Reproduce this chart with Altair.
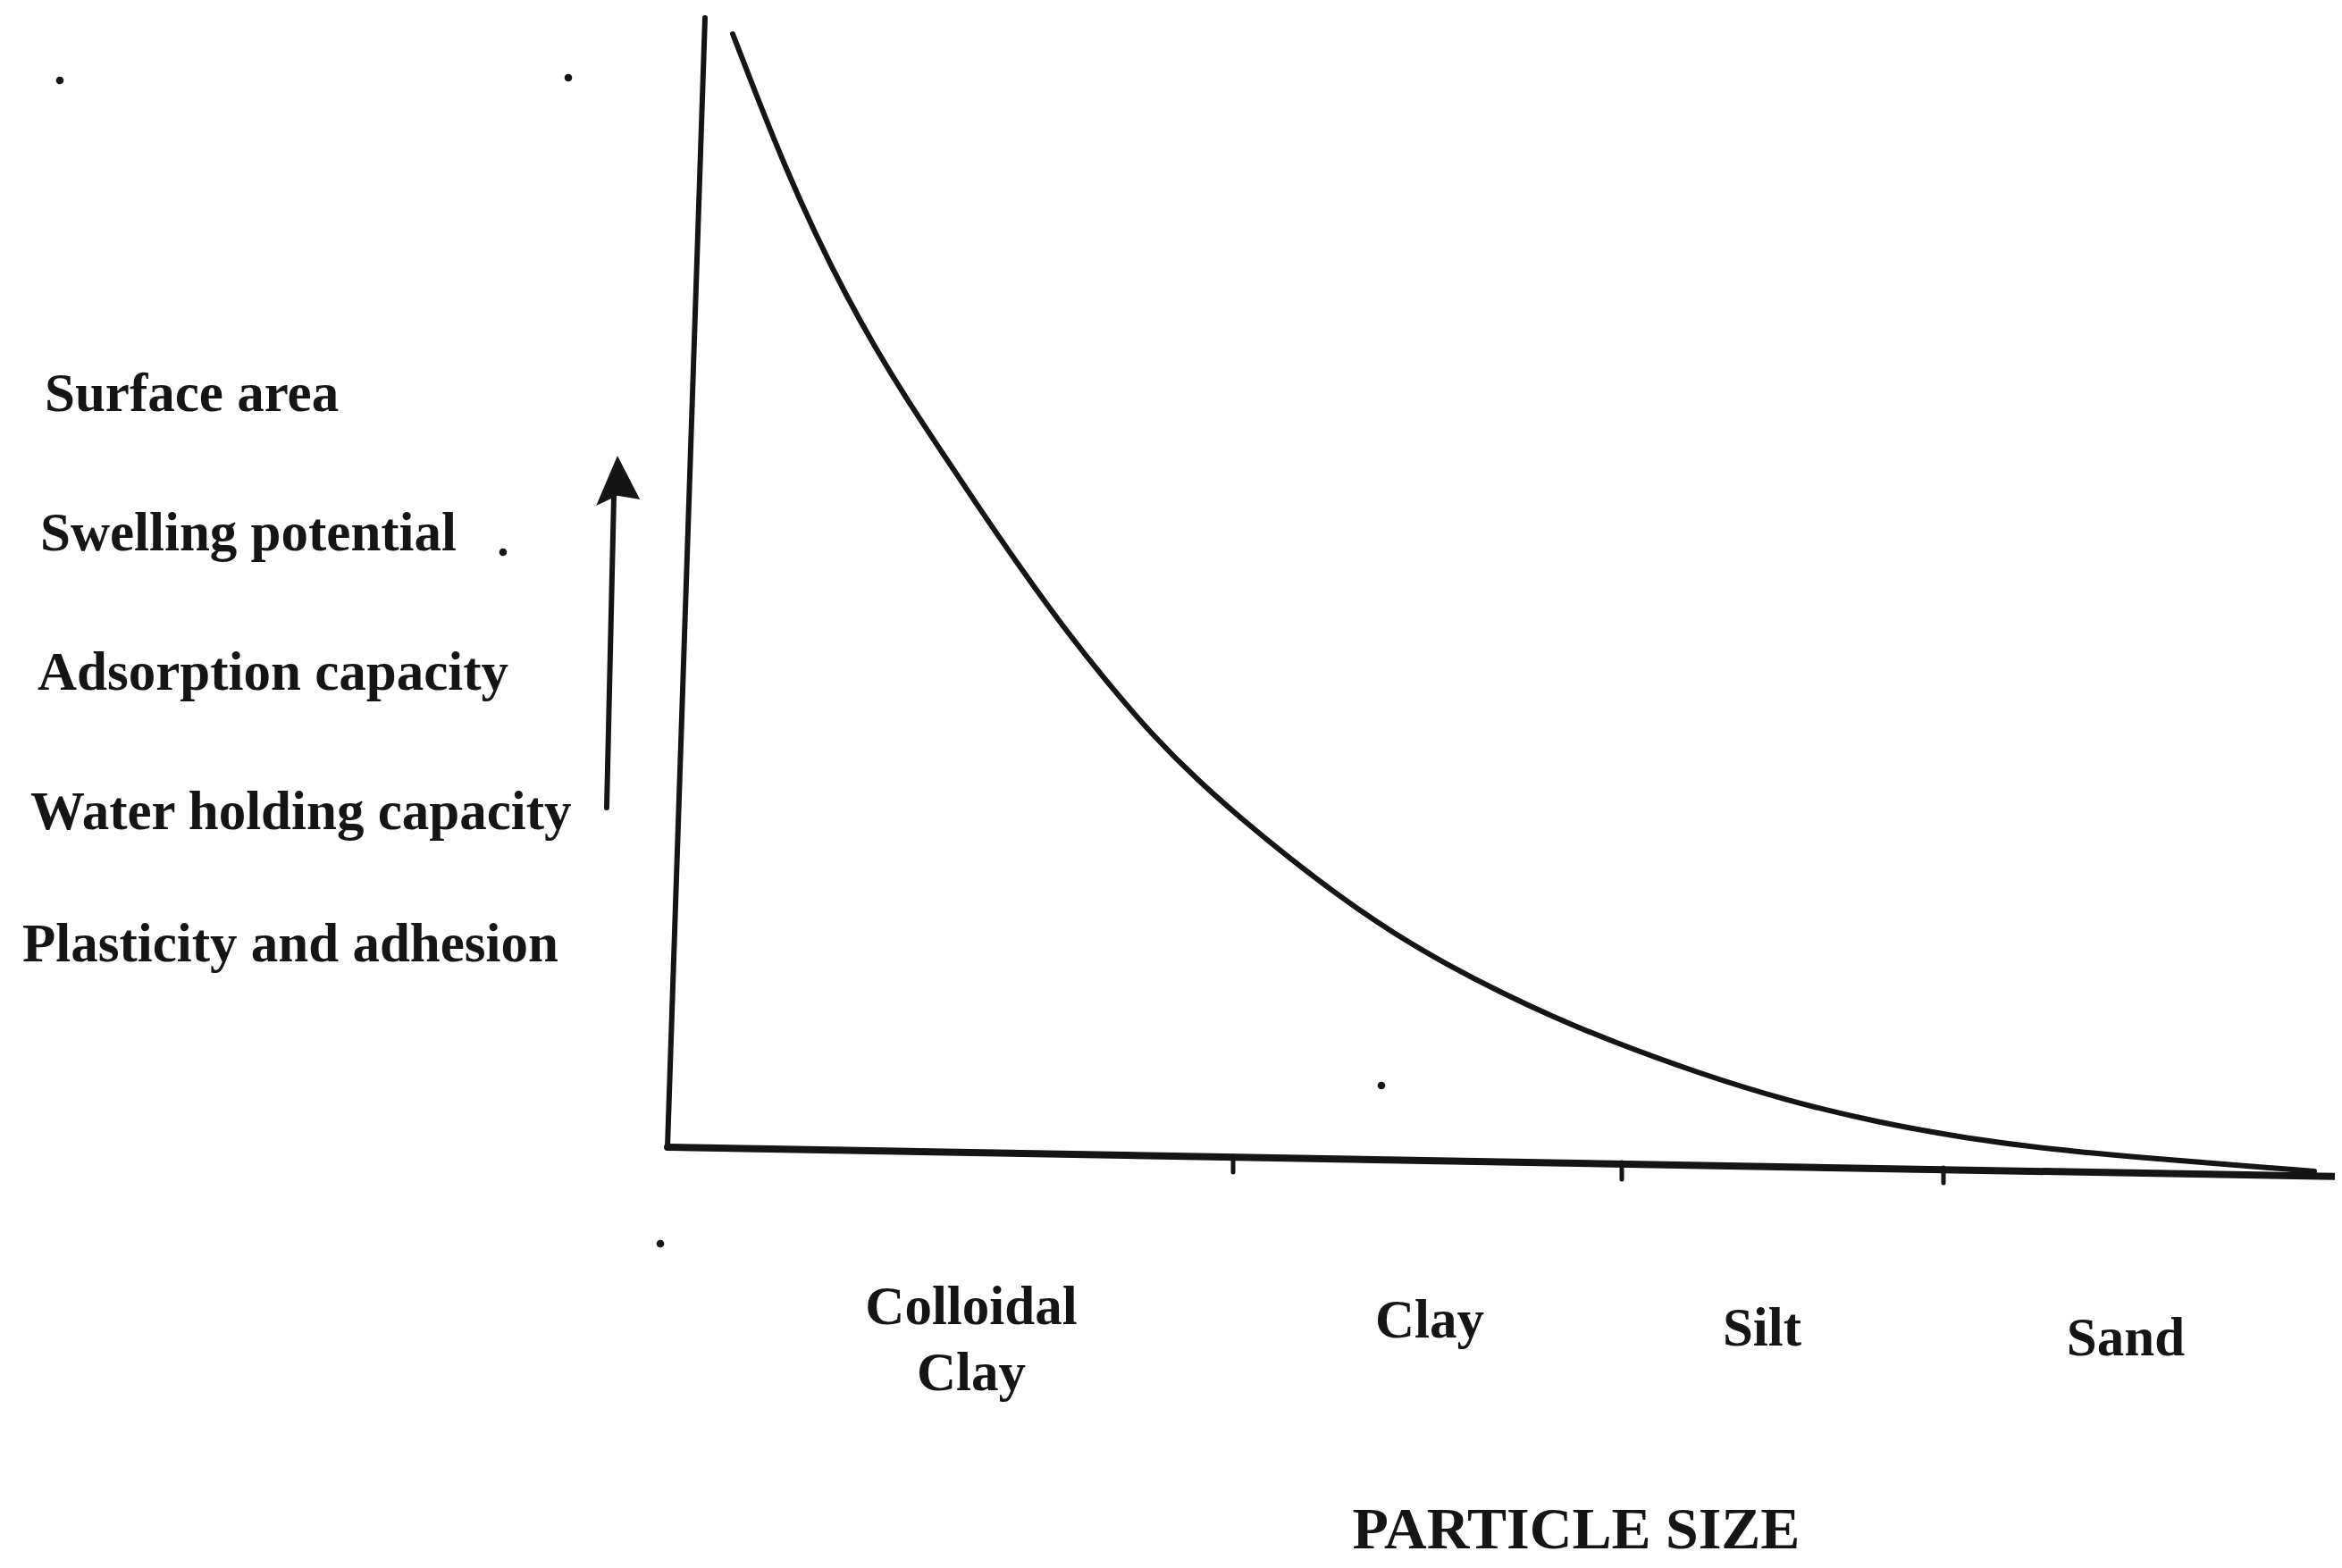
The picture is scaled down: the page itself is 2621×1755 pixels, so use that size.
import altair as alt
import pandas as pd

W, H = 2605, 1739

# curve (image pixel coordinates)
curve_x = [820, 847, 880, 913, 947, 980, 1013, 1050, 1090, 1140, 1190, 1240, 1290, 1340, 1390,
           1440, 1500, 1560, 1620, 1680, 1740, 1800, 1900, 2000, 2100, 2200, 2300, 2400, 2500, 2590]
curve_y = [38, 108, 190, 263, 331, 390, 444, 500, 560, 633, 702, 765, 823, 873, 917,
           958, 1004, 1045, 1080, 1111, 1139, 1164, 1201, 1232, 1256, 1274, 1287, 1296, 1304, 1311]

# axis lines, arrow shaft, ticks
seg_name = ["yaxis", "xaxis", "arrow", "tick1", "tick2", "tick3"]
seg_x = [747, 747, 679, 1380, 1815, 2175]
seg_y = [1284, 1284, 904, 1294, 1301, 1307]
seg_x2 = [789, 2621, 687, 1380, 1815, 2175]
seg_y2 = [20, 1317, 555, 1312, 1320, 1324]
seg_w = [6, 8, 6, 5, 5, 5]

# left labels
left_labels = ["Surface area", "Swelling potential", "Adsorption capacity",
               "Water holding capacity", "Plasticity and adhesion"]
left_x = [50, 45, 42, 34, 25]
left_y = [442, 598, 754, 910, 1058]

# category labels
cat_labels = ["Colloidal", "Clay", "Clay", "Silt", "Sand"]
cat_x = [1087, 1087, 1600, 1972, 2379]
cat_y = [1464, 1538, 1479, 1488, 1499]

title_text = ["PARTICLE SIZE"]
title_x = [1764]
title_y = [1713]

speck_x = [67, 636, 739, 1546, 563]
speck_y = [90, 87, 1392, 1215, 618]

xs = alt.Scale(domain=[8, 8 + W], nice=False, zero=False)
ys = alt.Scale(domain=[8, 8 + H], nice=False, zero=False, reverse=True)
INK = "#151515"

curve_df = pd.DataFrame({"x": curve_x, "y": curve_y, "o": range(len(curve_x))})
seg_df = pd.DataFrame({"n": seg_name, "x": seg_x, "y": seg_y, "x2": seg_x2, "y2": seg_y2, "w": seg_w})
left_df = pd.DataFrame({"t": left_labels, "x": left_x, "y": left_y})
cat_df = pd.DataFrame({"t": cat_labels, "x": cat_x, "y": cat_y})
title_df = pd.DataFrame({"t": title_text, "x": title_x, "y": title_y})
speck_df = pd.DataFrame({"x": speck_x, "y": speck_y})
head_df = pd.DataFrame({"x": [691], "y": [538]})

X = lambda f="x": alt.X(f"{f}:Q", scale=xs, axis=None)
Y = lambda f="y": alt.Y(f"{f}:Q", scale=ys, axis=None)

curve = alt.Chart(curve_df).mark_line(interpolate="basis", color=INK, strokeWidth=6,
                                      strokeCap="round").encode(x=X(), y=Y(), order="o:Q")

segs = alt.Chart(seg_df).mark_rule(color=INK, strokeCap="round").encode(
    x=X(), y=Y(), x2="x2:Q", y2="y2:Q",
    strokeWidth=alt.StrokeWidth("w:Q", scale=None, legend=None))

head = alt.Chart(head_df).mark_point(
    shape="M0,-1L0.9,0.75L0,0.6L-0.85,1Z", filled=True, color=INK, opacity=1, size=3136
).encode(x=X(), y=Y())

font = "Liberation Serif"
left = alt.Chart(left_df).mark_text(align="left", baseline="middle", font=font, fontWeight="bold",
                                    fontSize=61, color=INK).encode(x=X(), y=Y(), text="t:N")
cats = alt.Chart(cat_df).mark_text(align="center", baseline="middle", font=font, fontWeight="bold",
                                   fontSize=61, color=INK).encode(x=X(), y=Y(), text="t:N")
title = alt.Chart(title_df).mark_text(align="center", baseline="middle", font=font, fontWeight="bold",
                                      fontSize=66, color=INK).encode(x=X(), y=Y(), text="t:N")
specks = alt.Chart(speck_df).mark_circle(color=INK, size=75, opacity=1).encode(x=X(), y=Y())

chart = alt.layer(segs, curve, head, left, cats, title, specks).properties(
    width=W, height=H, padding=0, autosize=alt.AutoSizeParams(type="none"), background="white"
).configure_view(stroke=None)

chart.save("out.html", embed_options={"renderer": "svg", "actions": False})
